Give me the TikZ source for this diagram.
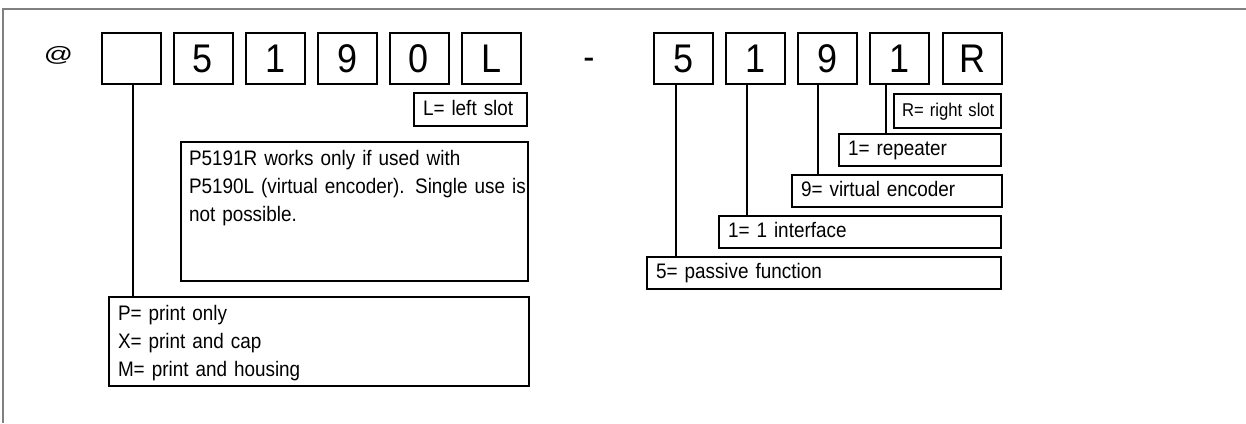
\documentclass[tikz,border=0pt]{standalone}
\usepackage{fontspec}
\setmainfont{Liberation Sans}[FakeStretch=0.9]

\begin{document}
\begin{tikzpicture}[x=1pt, y=-1pt,
  digit/.style={draw, line width=2pt, minimum width=59pt, minimum height=51pt, inner sep=0pt, font=\fontsize{40}{44}\selectfont},
  tag/.style={draw, line width=2pt, inner xsep=9pt, inner ysep=0pt, align=left, text height=15pt, text depth=4pt, font=\fontsize{21}{28.3}\selectfont},
  link/.style={line width=2pt}]
\useasboundingbox (0,0) rectangle (1246,423);
\draw [line width=2pt, gray] (1246,8.5) -- (2.5,8.5) -- (2.5,423);

\node (at) at (58.5,55) [font=\fontsize{32}{34}\selectfont] {\scalebox{1}[0.65]{@}};
\node (blank) at (131.5,58.5) [digit] {};
\node (n5) at (203,58.5) [digit] {5};
\node (n1) at (275.5,58.5) [digit] {1};
\node (n9) at (347.5,58.5) [digit] {9};
\node (n0) at (419,58.5) [digit] {0};
\node (nL) at (491.5,58.5) [digit] {L};
\node (dash) at (589,64) [font=\fontsize{37}{40}\selectfont] {-};
\node (m5) at (683,58.5) [digit] {5};
\node (m1) at (755.5,58.5) [digit] {1};
\node (m9) at (827,58.5) [digit] {9};
\node (m1b) at (899.5,58.5) [digit] {1};
\node (mR) at (972,58.5) [digit] {R};

\node (left) at (470.5,109.5) [tag, text width=95pt, minimum height=33pt] {L= left slot};
\node (right) at (947.5,111) [tag, inner xsep=8pt, text width=91pt, minimum height=34pt, font=\fontsize{18.5}{24}\selectfont] {\mbox{R= right slot}};
\node (rep) at (920,150) [tag, text width=144pt, minimum height=32pt] {1= repeater};
\node (venc) at (897,191) [tag, text width=192pt, minimum height=32pt] {9= virtual encoder};
\node (iface) at (860,232) [tag, text width=264pt, minimum height=32pt] {1= 1 interface};
\node (pass) at (824,273) [tag, text width=336pt, minimum height=32pt] {5= passive function};

\node (note) at (354.5,211.5) [tag, inner xsep=8pt, inner ysep=7pt, text width=331pt, text height=16pt, text depth=109pt] {P5191R works only if used with\\\mbox{P5190L (virtual encoder). Single use is}\\not possible.};
\node (print) at (319,341.5) [tag, inner ysep=7pt, text width=402pt, text height=16pt, text depth=59pt] {P= print only\\X= print and cap\\M= print and housing};

\draw [link] ([xshift=1.5pt]blank.south) -- ([xshift=1.5pt]blank.south |- print.north);
\draw [link] ([xshift=-7pt]m5.south) -- ([xshift=-7pt]m5.south |- pass.north);
\draw [link] ([xshift=-9pt]m1.south) -- ([xshift=-9pt]m1.south |- iface.north);
\draw [link] ([xshift=-9pt]m9.south) -- ([xshift=-9pt]m9.south |- venc.north);
\draw [link] ([xshift=-13.5pt]m1b.south) -- ([xshift=-13.5pt]m1b.south |- rep.north);
\end{tikzpicture}
\end{document}
